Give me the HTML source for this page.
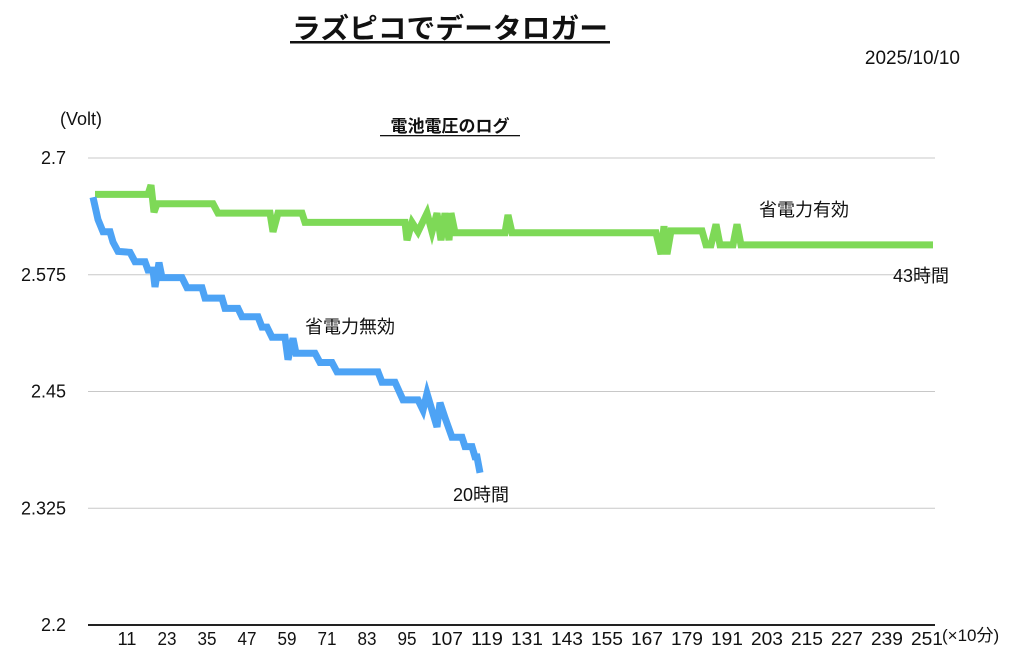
<!DOCTYPE html>
<html><head><meta charset="utf-8"><style>
html,body{margin:0;padding:0;background:#fff;}
svg{display:block;}
text{font-family:"Liberation Sans","Noto Sans CJK JP",sans-serif;fill:#111;}
</style></head><body>
<svg id="chart" width="1024" height="667" viewBox="0 0 1024 667">
<text x="450" y="38" text-anchor="middle" font-size="28" font-weight="bold" textLength="316" lengthAdjust="spacingAndGlyphs">ラズピコでデータロガー</text>
<rect x="290" y="41" width="320" height="2.5" fill="#111"/>
<text x="960" y="64" text-anchor="end" font-size="19">2025/10/10</text>
<text x="60" y="125" font-size="18">(Volt)</text>
<text x="450" y="132" text-anchor="middle" font-size="17" font-weight="bold">電池電圧のログ</text>
<rect x="380" y="135" width="140" height="1.3" fill="#111"/>
<g id="grid"></g>
<g id="series"></g>
<text x="759" y="216" font-size="18">省電力有効</text>
<text x="893" y="282" font-size="18">43時間</text>
<text x="305" y="333" font-size="18">省電力無効</text>
<text x="453" y="501" font-size="18">20時間</text>
<text x="942" y="641" font-size="17">(×10分)</text>
</svg>
<script>
const yTicks = [2.2, 2.325, 2.45, 2.575, 2.7];
const xTicks = [11,23,35,47,59,71,83,95,107,119,131,143,155,167,179,191,203,215,227,239,251];
const greenT = [1.4,17.3,18.2,19.1,20.0,36.8,38.3,53.9,54.8,56.3,63.5,64.4,94.4,95.0,96.5,98.3,101.0,102.5,104.0,105.2,106.4,107.6,108.2,109.4,124.4,125.3,126.5,169.7,171.2,172.1,173.0,174.2,183.5,184.7,186.2,187.7,188.9,192.8,194.0,195.2,252.8];
const greenV = [2.661,2.661,2.671,2.642,2.651,2.651,2.641,2.641,2.621,2.641,2.641,2.631,2.631,2.612,2.631,2.621,2.641,2.621,2.641,2.612,2.641,2.612,2.641,2.620,2.620,2.639,2.620,2.620,2.597,2.627,2.597,2.622,2.622,2.607,2.607,2.629,2.607,2.607,2.629,2.607,2.607];
const blueT = [0.8,2.3,3.8,5.9,6.8,8.3,11.9,13.4,16.4,17.3,18.8,19.4,20.6,21.5,27.5,29.0,33.5,34.4,39.5,40.4,44.3,45.5,50.3,51.5,53.0,54.5,58.4,59.3,60.8,61.7,67.4,68.9,72.5,74.0,86.3,87.5,91.4,93.8,98.3,99.8,101.0,102.5,104.0,104.9,106.4,108.5,111.5,112.4,114.5,115.4,116.0,116.9];
const blueV = [2.658,2.634,2.621,2.621,2.610,2.600,2.599,2.589,2.589,2.580,2.580,2.562,2.588,2.572,2.572,2.561,2.561,2.550,2.550,2.539,2.539,2.530,2.530,2.519,2.519,2.508,2.508,2.484,2.507,2.491,2.491,2.481,2.481,2.471,2.471,2.460,2.460,2.441,2.441,2.430,2.448,2.430,2.412,2.438,2.422,2.401,2.401,2.391,2.391,2.380,2.380,2.363];

const NS = "http://www.w3.org/2000/svg";
const X0 = 90.3, XK = 40/12;
const Y0 = 625, Y1 = 158, V0 = 2.2, V1 = 2.7;
function xs(t){ return X0 + t*XK; }
function ys(v){ return Y0 - (v - V0)/(V1 - V0)*(Y0 - Y1); }
const grid = document.getElementById('grid');
yTicks.forEach((v,i)=>{
  const y = ys(v);
  const ln = document.createElementNS(NS,'line');
  ln.setAttribute('x1',88); ln.setAttribute('x2',935);
  ln.setAttribute('y1',y); ln.setAttribute('y2',y);
  ln.setAttribute('stroke', i===0 ? '#222' : '#c8c8c8');
  ln.setAttribute('stroke-width', i===0 ? 2 : 1);
  
  
  grid.appendChild(ln);
  const tx = document.createElementNS(NS,'text');
  tx.setAttribute('x',66); tx.setAttribute('y',y+6);
  tx.setAttribute('text-anchor','end'); tx.setAttribute('font-size','18');
  tx.textContent = String(v);
  
  
  grid.appendChild(tx);
});
xTicks.forEach(t=>{
  const tx = document.createElementNS(NS,'text');
  tx.setAttribute('x',xs(t)); tx.setAttribute('y',645);
  tx.setAttribute('text-anchor','middle'); tx.setAttribute('font-size','18');
  tx.setAttribute('textLength', t>=100 ? 32 : 19);
  tx.setAttribute('lengthAdjust','spacingAndGlyphs');
  tx.textContent = String(t);
  
  
  grid.appendChild(tx);
});
const series = document.getElementById('series');
function draw(T,V,color,name){
  const p = document.createElementNS(NS,'polyline');
  p.setAttribute('points', T.map((t,i)=>xs(t).toFixed(1)+','+ys(V[i]).toFixed(1)).join(' '));
  p.setAttribute('fill','none'); p.setAttribute('stroke',color);
  p.setAttribute('stroke-width','7'); p.setAttribute('stroke-linejoin','miter');
  
  
  series.appendChild(p);
}
draw(greenT, greenV, '#7ed957', 'power-saving-on-line');
draw(blueT, blueV, '#4da3f5', 'power-saving-off-line');
</script>
</body></html>
